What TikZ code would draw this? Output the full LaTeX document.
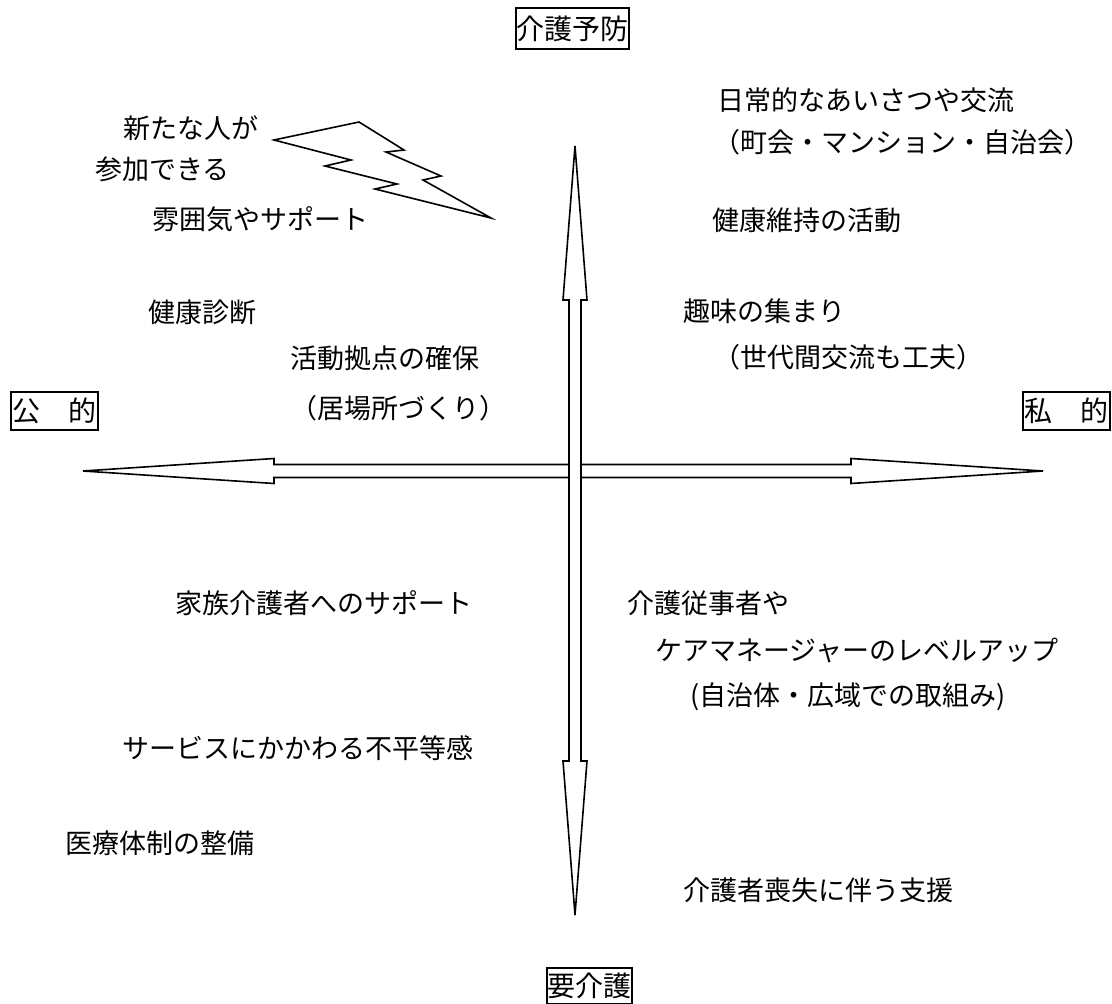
\documentclass[tikz,border=0pt]{standalone}
\usepackage{fontspec}
\setmainfont{Noto Sans CJK JP}
\begin{document}
\begin{tikzpicture}[x=1pt,y=-1pt,
  txt/.style={anchor=west,inner sep=0pt,font=\fontsize{27}{30}\selectfont},
  lab/.style={draw,line width=1.6pt,inner sep=0pt,font=\fontsize{28}{30}\selectfont},
  outl/.style={draw,line width=1.6pt,line join=miter,fill=white}]
\useasboundingbox (0,0) rectangle (1112,1004);
% axis labels
\node[lab,minimum width=113pt,minimum height=41pt] (top) at (572.5,28.5) {介護予防};
\node[lab,minimum width=85pt,minimum height=36pt] (bot) at (589.5,986) {要介護};
\node[lab,minimum width=87pt,minimum height=38pt] (lft) at (54.5,411) {公　的};
\node[lab,minimum width=87pt,minimum height=38pt] (rgt) at (1066.5,411) {私　的};
% horizontal double arrow
\draw[outl] (83,471) -- (274,458.5) -- (274,464.5) -- (851,464.5) -- (851,458.5) -- (1043,471)
  -- (851,483.5) -- (851,477.5) -- (274,477.5) -- (274,483.5) -- cycle;
% vertical double arrow
\draw[outl] (575,146) -- (587,300) -- (581,300) -- (581,761) -- (587,761) -- (575,915)
  -- (563,761) -- (569,761) -- (569,300) -- (563,300) -- cycle;
% lightning bolt
\draw[outl] (274,140) -- (359,122) -- (404,150) -- (386,152) -- (441,176) -- (423,180)
  -- (491,218) -- (375,189) -- (397,184) -- (325,166) -- (351,160) -- cycle;
% texts
\node[txt] (t1) at (717,100) {日常的なあいさつや交流};
\node[txt] (t2) at (713,142) {（町会・マンション・自治会）};
\node[txt] (t3) at (123,128) {新たな人が};
\node[txt] (t4) at (95,169) {参加できる};
\node[txt] (t5) at (152,219) {雰囲気やサポート};
\node[txt] (t6) at (712,220) {健康維持の活動};
\node[txt] (t7) at (148,312) {健康診断};
\node[txt] (t8) at (683,311) {趣味の集まり};
\node[txt] (t9) at (290,358) {活動拠点の確保};
\node[txt] (t10) at (713,357) {（世代間交流も工夫）};
\node[txt] (t11) at (290,408) {（居場所づくり）};
\node[txt] (t12) at (175,603) {家族介護者へのサポート};
\node[txt] (t13) at (627,603) {介護従事者や};
\node[txt] (t14) at (655,650) {ケアマネージャーのレベルアップ};
\node[txt] (t15) at (690,697) {(自治体・広域での取組み)};
\node[txt] (t16) at (122,748) {サービスにかかわる不平等感};
\node[txt] (t17) at (65,843) {医療体制の整備};
\node[txt] (t18) at (683,890) {介護者喪失に伴う支援};
\end{tikzpicture}
\end{document}
